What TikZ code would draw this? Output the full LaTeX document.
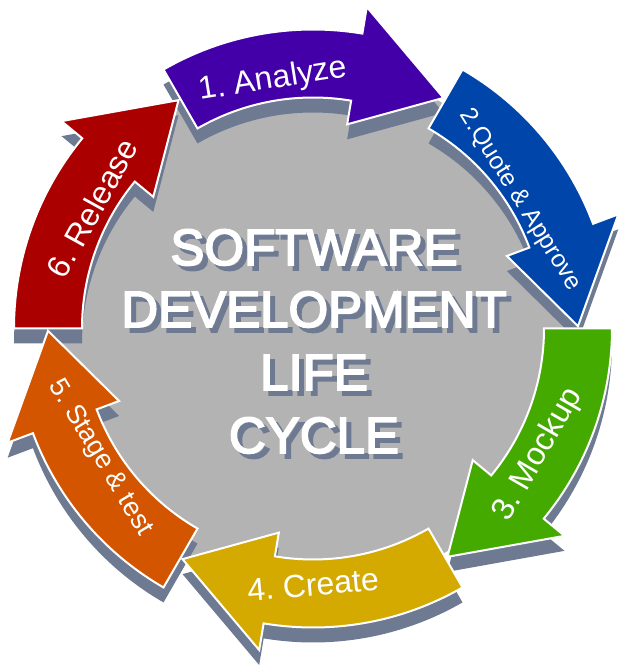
\documentclass[tikz,border=0pt]{standalone}
\usepackage{fontspec}
\setmainfont{Liberation Sans}
\newfontfamily\titlefont{Liberation Sans}[FakeBold=3.5]
\frenchspacing
\definecolor{cPurple}{HTML}{4400A8}
\definecolor{cBlue}{HTML}{0046AA}
\definecolor{cGreen}{HTML}{44AA00}
\definecolor{cGold}{HTML}{D4AA00}
\definecolor{cOrange}{HTML}{D45500}
\definecolor{cRed}{HTML}{AA0000}
\definecolor{cGray}{HTML}{B3B3B3}
\definecolor{cShadow}{HTML}{6E7A91}
\newcommand\cycarrow[1]{({#1}:299pt) arc[start angle={#1}, end angle={#1-39.5}, radius=299pt] -- ({#1-39.5}:326pt) -- ({#1-59.5}:265pt) -- ({#1-39.5}:207pt) -- ({#1-39.5}:231pt) arc[start angle={#1-39.5}, end angle={#1}, radius=231pt] -- cycle}
\newcommand\shadowed[1]{\rlap{\kern5pt\raisebox{-5pt}{\textcolor{cShadow}{#1}}}#1}
\tikzset{
  arrowbody/.style={fill=#1, draw=white, line width=2pt, line join=miter},
  arrowshadow/.style={fill=cShadow},
  steplabel/.style={text=white, inner sep=0pt},
  titleline/.style={text=white, inner sep=0pt, anchor=base, font=\titlefont\fontsize{51}{56}\selectfont}
}
\begin{document}
\begin{tikzpicture}[x=1pt,y=1pt]
\useasboundingbox (0,0) rectangle (625,672);
\begin{scope}[shift={(313,343.5)}]
  \fill[cGray] (0,0) circle[radius=260pt];
  % shadows
  \foreach \T in {120,60,0,-60,-120,-180} {
    \fill[arrowshadow, yshift=-15pt] \cycarrow{\T};
  }
  % arrows
  \path[arrowbody=cRed] \cycarrow{-180};
  \path[arrowbody=cOrange] \cycarrow{-120};
  \path[arrowbody=cGold] \cycarrow{-60};
  \path[arrowbody=cGreen] \cycarrow{0};
  \path[arrowbody=cBlue] \cycarrow{60};
  \path[arrowbody=cPurple] \cycarrow{120};
  % labels
  \node[steplabel, rotate=9, font=\fontsize{32}{36}\selectfont] (l1) at (99.1:251.7pt) {1. Analyze};
  \node[steplabel, rotate=-58, font=\fontsize{24.5}{28}\selectfont] (l2) at (31.8:243.6pt) {2.Quote \& Approve};
  \node[steplabel, rotate=60, font=\fontsize{32}{36}\selectfont] (l3) at (-29.3:258pt) {3. Mockup};
  \node[steplabel, rotate=5, font=\fontsize{32}{36}\selectfont] (l4) at (-90:256pt) {4. Create};
  \node[steplabel, rotate=-59, font=\fontsize{27}{31}\selectfont] (l5) at (211.3:249pt) {5. Stage \& test};
  \node[steplabel, rotate=61, font=\fontsize{32}{36}\selectfont] (l6) at (151.4:251.7pt) {6. Release};
\end{scope}
% title with shadow
\node[titleline] (t1) at (314,407) {\shadowed{SOFTWARE}};
\node[titleline] (t2) at (314,345) {\shadowed{DEVELOPMENT}};
\node[titleline] (t3) at (314,282) {\shadowed{LIFE}};
\node[titleline] (t4) at (314,219) {\shadowed{CYCLE}};
\end{tikzpicture}
\end{document}
